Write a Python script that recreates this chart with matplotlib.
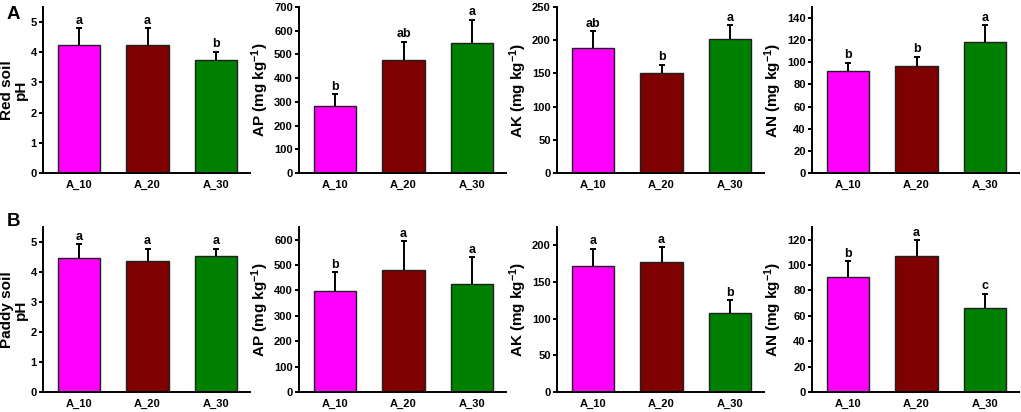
import numpy as np
import matplotlib
matplotlib.use('Agg')
import matplotlib.pyplot as plt

plt.rcParams['font.family'] = ['Liberation Sans', 'DejaVu Sans']
plt.rcParams['font.weight'] = 'bold'
plt.rcParams['axes.labelweight'] = 'bold'
plt.rcParams['mathtext.fontset'] = 'custom'
plt.rcParams['mathtext.rm'] = 'Liberation Sans:bold'
plt.rcParams['mathtext.bf'] = 'Liberation Sans:bold'
plt.rcParams['mathtext.default'] = 'rm'

grupos = ['A_10', 'A_20', 'A_30']
cores = ['#FF00FF', '#7F0000', '#008000']

# red soil
red_ph = [4.25, 4.25, 3.75]
red_ph_err = [0.55, 0.55, 0.27]
red_ph_let = ['a', 'a', 'b']
red_ap = [282, 477, 548]
red_ap_err = [51, 77, 98]
red_ap_let = ['b', 'ab', 'a']
red_ak = [188, 151, 202]
red_ak_err = [26, 12, 21]
red_ak_let = ['ab', 'b', 'a']
red_an = [92, 97, 118.5]
red_an_err = [7.5, 8, 15]
red_an_let = ['b', 'b', 'a']

# paddy soil
paddy_ph = [4.48, 4.37, 4.54]
paddy_ph_err = [0.45, 0.41, 0.24]
paddy_ph_let = ['a', 'a', 'a']
paddy_ap = [396, 479, 425]
paddy_ap_err = [77, 114, 107]
paddy_ap_let = ['b', 'a', 'a']
paddy_ak = [171.5, 177.5, 108]
paddy_ak_err = [24, 20, 17]
paddy_ak_let = ['a', 'a', 'b']
paddy_an = [91, 107.5, 66.3]
paddy_an_err = [12, 12, 11.3]
paddy_an_let = ['b', 'a', 'c']

unid = r' (mg kg$^{-1}$)'

linha_a = [
    (red_ph, red_ph_err, red_ph_let, 'Red soil\npH', 5.5, np.arange(0, 6, 1)),
    (red_ap, red_ap_err, red_ap_let, 'AP' + unid, 700, np.arange(0, 701, 100)),
    (red_ak, red_ak_err, red_ak_let, 'AK' + unid, 250, np.arange(0, 251, 50)),
    (red_an, red_an_err, red_an_let, 'AN' + unid, 150, np.arange(0, 141, 20)),
]
linha_b = [
    (paddy_ph, paddy_ph_err, paddy_ph_let, 'Paddy soil\npH', 5.5, np.arange(0, 6, 1)),
    (paddy_ap, paddy_ap_err, paddy_ap_let, 'AP' + unid, 650, np.arange(0, 601, 100)),
    (paddy_ak, paddy_ak_err, paddy_ak_let, 'AK' + unid, 225, np.arange(0, 201, 50)),
    (paddy_an, paddy_an_err, paddy_an_let, 'AN' + unid, 130, np.arange(0, 121, 20)),
]

W, H = 1021, 412
fig = plt.figure(figsize=(W / 100, H / 100), dpi=100)

esquerdas = [43, 299, 557, 812]
larg = 207
# (top px, bottom px)
linhas = [(7, 173, linha_a), (227, 392, linha_b)]


def plota_painel(ax, vals, errs, letras, rotulo, ytop, yticks):
    x = np.arange(len(grupos))
    ax.bar(x, vals, width=0.62, color=cores, edgecolor='#202020',
           linewidth=1.0, zorder=2)
    eb = ax.errorbar(x, vals, yerr=[np.zeros(len(vals)), errs], fmt='none',
                     ecolor='black', elinewidth=1.4, capsize=2.3, capthick=1.4,
                     zorder=3)
    # only the upper cap
    eb[1][0].set_visible(False)
    for xi, v, e, l in zip(x, vals, errs, letras):
        ax.annotate(l, (xi, v + e), xytext=(0, 1), textcoords='offset points',
                    ha='center', va='bottom', fontsize=9, fontweight='bold')
    ax.set_xlim(-0.53, 2.5)
    ax.set_ylim(0, ytop)
    ax.set_yticks(yticks)
    ax.set_xticks(x)
    ax.set_xticklabels(grupos)
    ax.spines[['right', 'top']].set_visible(False)
    ax.spines[['left', 'bottom']].set_linewidth(1.4)
    ax.tick_params(axis='y', length=3, width=1.4, pad=1.5, labelsize=8)
    ax.tick_params(axis='x', length=0, pad=5, labelsize=8)
    ax.set_ylabel(rotulo, fontsize=11, labelpad=2, linespacing=0.95)


for topo, base, paineis in linhas:
    for esq, p in zip(esquerdas, paineis):
        ax = fig.add_axes([esq / W, 1 - base / H, larg / W, (base - topo) / H])
        plota_painel(ax, *p)

fig.text(7 / W, 1 - 6 / H, 'A', fontsize=13.5, fontweight='bold', ha='left', va='top')
fig.text(7 / W, 1 - 213 / H, 'B', fontsize=13.5, fontweight='bold', ha='left', va='top')

fig.savefig('out.png', dpi=100)
